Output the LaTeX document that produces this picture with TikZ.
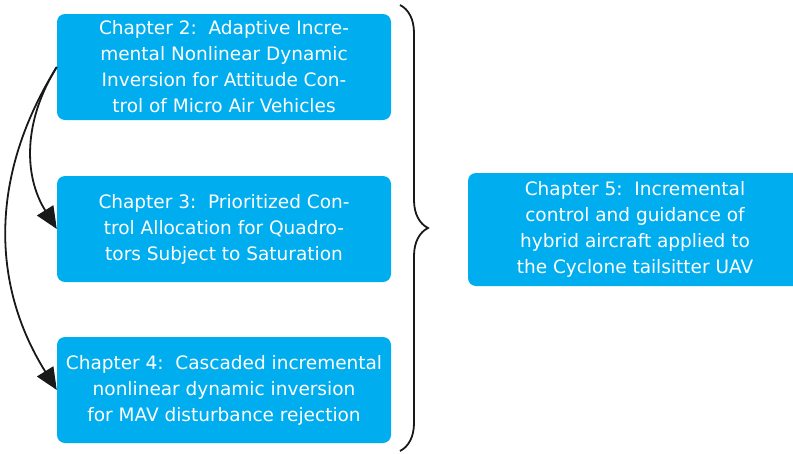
\documentclass[tikz,border=0pt]{standalone}
\usepackage{fontspec}
\setmainfont{DejaVu Sans}
\usetikzlibrary{arrows.meta,decorations.pathreplacing}
\definecolor{chapblue}{RGB}{0,174,239}

\begin{document}
\begin{tikzpicture}[x=1pt,y=-1pt,
  chap/.style={fill=chapblue, rounded corners=8pt, text=white, align=center,
    minimum width=334pt, minimum height=106pt, inner sep=0pt,
    font=\fontsize{18.5}{26}\selectfont},
  dep/.style={-{Triangle[length=22pt,width=19pt]}, line width=1.8pt, black!90}]
\useasboundingbox (0,0) rectangle (793,453);
\node[chap] (ch2) at (224,67) {Chapter 2:\ \ Adaptive Incre-\\mental Nonlinear Dynamic\\Inversion for Attitude Con-\\trol of Micro Air Vehicles};
\node[chap] (ch3) at (224,229) {Chapter 3:\ \ Prioritized Con-\\trol Allocation for Quadro-\\tors Subject to Saturation};
\node[chap] (ch4) at (224,390) {Chapter 4:\ \ Cascaded incremental\\nonlinear dynamic inversion\\for MAV disturbance rejection};
\node[chap, minimum height=113pt] (ch5) at (635,229.5) {Chapter 5:\ \ Incremental\\control and guidance of\\hybrid aircraft applied to\\the Cyclone tailsitter UAV};
\draw[dep] (ch2.west) to[bend right=32] (ch3.west);
\draw[dep] (ch2.west) to[bend right=32] (ch4.west);
\coordinate (bt) at (400,5);
\coordinate (bb) at (400,451);
\draw[line width=1.8pt, black!90, decorate, decoration={brace, amplitude=28pt}] (bt) -- (bb);
\end{tikzpicture}
\end{document}
